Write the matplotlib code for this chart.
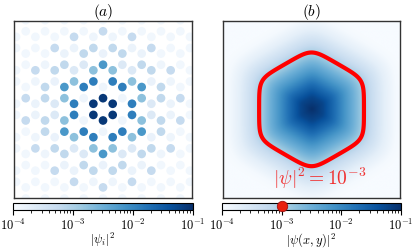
import numpy as np
import matplotlib.pyplot as plt
from matplotlib.colors import LogNorm

plt.rcParams['mathtext.fontset'] = 'cm'
plt.rcParams['font.family'] = ['DejaVu Serif']

# honeycomb shells: squared distance from the hexagon centre (bond length = 1)
shell_r2 = [1, 4, 7, 13, 16, 19, 25, 28, 31, 37, 43, 49]
shell_log = [-1.1, -3.85, -1.9, -2.75, -2.2, -3.58, -3.8, -3.2, -3.2, -3.82, -3.85, -3.25]
floor_log = -3.9

# continuum envelope: log10 |psi|^2 against the (rounded) hexagonal radius
prof_rho = [0, 1, 2, 3, 4, 4.7, 5.5, 6.5, 7.5, 12]
prof_log = [-1.0, -1.25, -1.7, -2.2, -2.65, -3.0, -3.35, -3.72, -3.95, -4.3]

cb_ticks = [1e-4, 1e-3, 1e-2, 1e-1]
cb_labels = [r'$10^{-4}$', r'$10^{-3}$', r'$10^{-2}$', r'$10^{-1}$']
level = 1e-3
L = 7.95

norm = LogNorm(vmin=1e-4, vmax=1e-1)
cmap = plt.get_cmap('Blues')

# sites of the honeycomb lattice
a1 = np.array([np.sqrt(3), 0.0])
a2 = np.array([np.sqrt(3) / 2, 1.5])
xs, ys = [], []
for n in range(-14, 15):
    for m in range(-9, 10):
        for base in ([0.0, 1.0], [0.0, -1.0]):
            p = np.array(base) + n * a1 + m * a2
            if abs(p[0]) < L + 1 and abs(p[1]) < L + 1:
                xs.append(p[0])
                ys.append(p[1])
xs = np.array(xs)
ys = np.array(ys)
lookup = dict(zip(shell_r2, shell_log))
r2 = np.round(xs**2 + ys**2).astype(int)
vals = np.array([10 ** lookup.get(k, floor_log) for k in r2])

# continuum field
g = np.linspace(-L, L, 500)
X, Y = np.meshgrid(g, g)
pw = 11
acc = np.zeros_like(X)
for th in (0, np.pi / 3, 2 * np.pi / 3):
    acc += np.abs(X * np.cos(th) + Y * np.sin(th)) ** pw
rho = acc ** (1 / pw)
Z = 10 ** np.interp(rho, prof_rho, prof_log)

fig = plt.figure(figsize=(4.15, 2.51), dpi=100)
ax1 = fig.add_axes([0.0345, 0.2072, 0.4275, 0.7064])
ax2 = fig.add_axes([0.5357, 0.2072, 0.4300, 0.7064])
cax1 = fig.add_axes([0.0321, 0.1606, 0.4323, 0.0255])
cax2 = fig.add_axes([0.5350, 0.1606, 0.4313, 0.0255])

sc = ax1.scatter(xs, ys, c=vals, s=39, cmap=cmap, norm=norm, linewidths=0)
ax1.set_xlim(-L, L)
ax1.set_ylim(-L, L)

im = ax2.imshow(Z, extent=[-L, L, -L, L], origin='lower', cmap=cmap, norm=norm,
                interpolation='bilinear')
ax2.contour(X, Y, Z, levels=[level], colors='red', linewidths=3)
ax2.text(0.7, -6.1, r'$|\psi|^2 = 10^{-3}$', color='#f03030', fontsize=14,
         ha='center', va='center')

for ax, t in ((ax1, r'$(a)$'), (ax2, r'$(b)$')):
    ax.set_xticks([])
    ax.set_yticks([])
    ax.set_title(t, fontsize=11, pad=4)
    for sp in ax.spines.values():
        sp.set_color('#333333')
        sp.set_linewidth(1.0)

for cax, mp in ((cax1, sc), (cax2, im)):
    cb = fig.colorbar(mp, cax=cax, orientation='horizontal')
    cb.minorticks_on()
    cb.set_ticks(cb_ticks)
    cb.set_ticklabels(cb_labels)
    cb.outline.set_linewidth(0.8)
    cax.tick_params(which='major', length=3.5, width=0.8, labelsize=9, pad=2)
    cax.tick_params(which='minor', length=2, width=0.6)

# colour bar labels
fig.text(0.2483, 0.045, r'$|\psi_i|^2$', fontsize=9, ha='center', va='center')
fig.text(0.7507, 0.045, r'$|\psi(x,y)|^2$', fontsize=9, ha='center', va='center')

cax2.plot(level, 0.5, 'o', ms=7.5, color='#e8200f', mec='#a01010', mew=0.6,
          clip_on=False, zorder=5)

fig.savefig('out.png', dpi=100)
